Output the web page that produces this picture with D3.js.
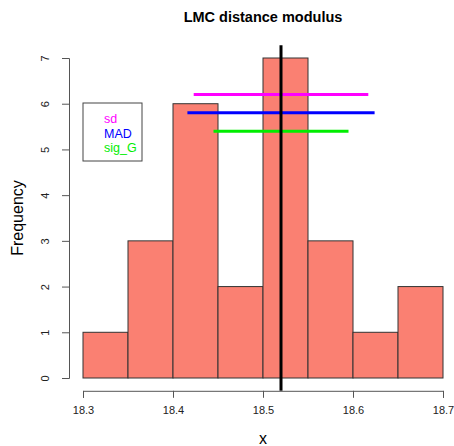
<!DOCTYPE html>
<html>
<head>
<meta charset="utf-8">
<script src="https://cdn.jsdelivr.net/npm/d3@7"></script>
<style>
  body { margin: 0; background: #fff; }
  text { font-family: "Liberation Sans", Arial, sans-serif; }
</style>
</head>
<body>
<svg id="hist" width="454" height="446"></svg>
<script>
// histogram bins and counts
var binStarts = [18.30, 18.35, 18.40, 18.45, 18.50, 18.55, 18.60, 18.65];
var binWidth = 0.05;
var counts = [1, 3, 6, 2, 7, 3, 1, 2];

var xTicks = [18.3, 18.4, 18.5, 18.6, 18.7];
var yTicks = [0, 1, 2, 3, 4, 5, 6, 7];

// central value and the three spread estimates
var center = 18.52;
var spreadNames = ["sd", "MAD", "sig_G"];
var spreadHalf = [0.097, 0.104, 0.075];
var spreadLevel = [6.2, 5.8, 5.4];
var spreadColors = ["#ff00ff", "#0000ff", "#00ee00"];

var svg = d3.select("#hist");

// R-style plot region with 4% padding
var x = d3.scaleLinear().domain([18.3, 18.7]).range([83, 443]);
var y = d3.scaleLinear().domain([0, 7]).range([378, 58]);

var plotTop = y(7.28), plotBottom = y(-0.28);

// bars
svg.append("g")
  .selectAll("rect")
  .data(counts)
  .enter()
  .append("rect")
    .attr("x", function (d, i) { return x(binStarts[i]); })
    .attr("y", function (d) { return y(d); })
    .attr("width", function (d, i) { return x(binStarts[i] + binWidth) - x(binStarts[i]); })
    .attr("height", function (d) { return y(0) - y(d); })
    .style("fill", "#fa8072")
    .style("stroke", "#333")
    .style("stroke-width", 1);

// spread lines
svg.append("g")
  .selectAll("line")
  .data(spreadHalf)
  .enter()
  .append("line")
    .attr("x1", function (d) { return x(center - d); })
    .attr("x2", function (d) { return x(center + d); })
    .attr("y1", function (d, i) { return y(spreadLevel[i]); })
    .attr("y2", function (d, i) { return y(spreadLevel[i]); })
    .style("stroke", function (d, i) { return spreadColors[i]; })
    .style("stroke-width", 3);

// vertical line at the centre
svg.append("line")
  .attr("x1", x(center)).attr("x2", x(center))
  .attr("y1", plotTop).attr("y2", plotBottom)
  .style("stroke", "#000")
  .style("stroke-width", 3);

// x axis
var xAxis = svg.append("g")
  .attr("transform", "translate(0," + plotBottom + ")")
  .call(d3.axisBottom(x).tickValues(xTicks).tickFormat(d3.format(".1f")).tickSizeOuter(0).tickSize(7).tickPadding(8));
xAxis.select(".domain").attr("stroke", "#555");
xAxis.selectAll(".tick line").attr("stroke", "#555");
xAxis.selectAll("text").style("font-size", "11px").attr("fill", "#222");

// y axis
var yAxis = svg.append("g")
  .attr("transform", "translate(69,0)")
  .call(d3.axisLeft(y).tickValues(yTicks).tickFormat(d3.format("d")).tickSizeOuter(0).tickSize(7).tickPadding(0));
yAxis.select(".domain").attr("stroke", "#555");
yAxis.selectAll(".tick line").attr("stroke", "#555");
yAxis.selectAll("text")
  .style("font-size", "11px")
  .attr("fill", "#222")
  .attr("text-anchor", "middle")
  .attr("x", 0).attr("dy", 0)
  .attr("transform", "translate(-24,0) rotate(-90)")
  .attr("y", 4);

// title and axis labels
svg.append("text")
  .attr("x", 263).attr("y", 22)
  .attr("text-anchor", "middle")
  .style("font-size", "14.5px")
  .style("font-weight", "bold")
  .text("LMC distance modulus");

svg.append("text")
  .attr("x", 263).attr("y", 444)
  .attr("text-anchor", "middle")
  .style("font-size", "16px")
  .text("x");

svg.append("text")
  .attr("transform", "translate(23,218) rotate(-90)")
  .attr("text-anchor", "middle")
  .style("font-size", "16px")
  .text("Frequency");

// legend
var legend = svg.append("g");
legend.append("rect")
  .attr("x", 83).attr("y", 103)
  .attr("width", 59).attr("height", 58)
  .style("fill", "#fff")
  .style("stroke", "#444");
legend.selectAll("text")
  .data(spreadNames)
  .enter()
  .append("text")
    .attr("x", 104)
    .attr("y", function (d, i) { return 123 + i * 14.5; })
    .style("font-size", "12.5px")
    .style("fill", function (d, i) { return spreadColors[i]; })
    .text(function (d) { return d; });
</script>
</body>
</html>
